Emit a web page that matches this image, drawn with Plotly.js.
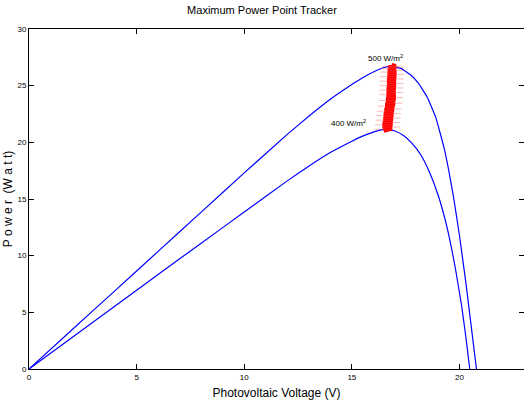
<!DOCTYPE html>
<html>
<head>
<meta charset="utf-8">
<script src="https://cdn.plot.ly/plotly-3.0.1.min.js"></script>
<style>html,body{margin:0;padding:0;background:#fff;}#chart{width:524px;height:410px;}</style>
</head>
<body>
<div id="chart"></div>
<script>
// PV curve at 500 W/m^2
var v500 = [0, 2, 4, 6, 8, 10, 12, 13, 14, 15, 15.5, 16, 16.5, 16.85, 17.3, 17.7, 18.1, 18.5, 18.9, 19.3, 19.74, 20.0, 20.3, 20.5, 20.79, 20.9];
var p500 = [0, 3.46, 6.92, 10.38, 13.84, 17.3, 20.7, 22.3, 23.8, 25.1, 25.7, 26.2, 26.6, 26.7, 26.5, 26.0, 25.2, 24.0, 22.2, 19.4, 15.0, 11.8, 7.6, 4.5, 0, -1.7];
// PV curve at 400 W/m^2
var v400 = [0, 2, 4, 6, 8, 10, 12, 13, 14, 15, 15.5, 16, 16.3, 16.6, 17.0, 17.4, 17.8, 18.2, 18.6, 19.0, 19.4, 19.8, 20.1, 20.3, 20.48, 20.6];
var p400 = [0, 2.78, 5.56, 8.34, 11.1, 13.85, 16.6, 17.9, 19.1, 20.1, 20.55, 20.9, 21.08, 21.15, 21.0, 20.6, 19.9, 18.9, 17.4, 15.4, 12.7, 9.0, 5.6, 2.8, 0, -1.9];
// MPPT tracked operating points
var mppV = [16.46, 16.84, 16.46, 16.86, 16.50, 16.88, 16.52, 16.90, 16.55, 16.92, 16.60, 16.96, 16.64, 16.99, 16.66, 16.99, 16.66, 17.00, 16.68, 17.01, 16.68, 17.01, 16.70, 17.03, 16.70, 17.03, 16.72, 17.03, 16.84];
var mppP = [21.15, 21.35, 21.55, 21.75, 21.95, 22.15, 22.35, 22.55, 22.75, 22.95, 23.2, 23.45, 23.7, 23.95, 24.2, 24.4, 24.6, 24.8, 25.0, 25.2, 25.4, 25.6, 25.8, 26.0, 26.2, 26.35, 26.5, 26.62, 26.7];
var labels = ['500 W/m<sup>2</sup>', '400 W/m<sup>2</sup>'];
var xTicks = [0, 5, 10, 15, 20];
var yTicks = [0, 5, 10, 15, 20, 25, 30];

var fnt = '"Liberation Sans", Arial, sans-serif';

function argmax(a){var k=0;for(var i=1;i<a.length;i++){if(a[i]>a[k])k=i;}return k;}
var i5 = argmax(p500), i4 = argmax(p400);

var traces = [
  {x: v500, y: p500, mode: 'lines', line: {color: '#0000ff', width: 1.2, shape: 'spline', smoothing: 0.3}, hoverinfo: 'skip'},
  {x: v400, y: p400, mode: 'lines', line: {color: '#0000ff', width: 1.2, shape: 'spline', smoothing: 0.3}, hoverinfo: 'skip'},
  {x: mppV, y: mppP, mode: 'lines+markers', line: {color: '#ff0000', width: 7},
   marker: {symbol: 'line-ew', size: 12, color: '#ff0000', line: {color: 'rgba(255,70,70,0.4)', width: 1}}, hoverinfo: 'skip'}
];

var layout = {
  width: 524, height: 410,
  margin: {l: 29, r: 0, t: 29, b: 41},
  paper_bgcolor: '#fff', plot_bgcolor: '#fff',
  showlegend: false,
  title: {text: 'Maximum Power Point Tracker', font: {family: fnt, size: 11, color: '#000'}, x: 0.5, xanchor: 'center', y: 0.985, yanchor: 'top'},
  xaxis: {
    range: [0, 23], tickvals: xTicks, ticktext: xTicks.map(String),
    ticks: 'inside', ticklen: 5, tickwidth: 1.2, tickcolor: '#000',
    showline: true, linecolor: '#000', linewidth: 1, mirror: 'ticks',
    showgrid: false, zeroline: false,
    tickfont: {family: fnt, size: 8, color: '#000'},
    title: {text: 'Photovoltaic Voltage (V)', font: {family: fnt, size: 12, color: '#000'}, standoff: 8}
  },
  yaxis: {
    range: [0, 30], tickvals: yTicks, ticktext: yTicks.map(String),
    ticks: 'inside', ticklen: 5, tickwidth: 1, tickcolor: '#000',
    showline: true, linecolor: '#000', linewidth: 1, mirror: 'ticks',
    showgrid: false, zeroline: false,
    tickfont: {family: fnt, size: 8, color: '#000'},
    title: {text: 'P o w e r  (W a t t)', font: {family: fnt, size: 12, color: '#000'}, standoff: 2}
  },
  annotations: [
    {x: v500[i5], y: p500[i5], xref: 'x', yref: 'y', text: labels[0], showarrow: false,
     xanchor: 'center', yanchor: 'bottom', xshift: -6, yshift: 1, font: {family: fnt, size: 8, color: '#000'}},
    {x: v400[i4], y: p400[i4], xref: 'x', yref: 'y', text: labels[1], showarrow: false,
     xanchor: 'right', yanchor: 'bottom', xshift: -18, yshift: -1, font: {family: fnt, size: 8, color: '#000'}}
  ]
};

Plotly.newPlot('chart', traces, layout, {displayModeBar: false, staticPlot: true});
</script>
</body>
</html>
